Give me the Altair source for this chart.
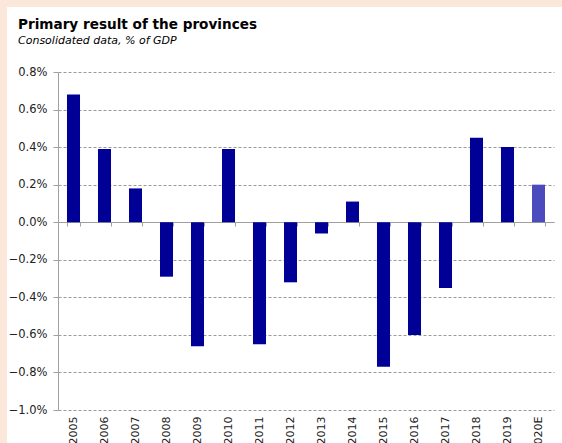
import altair as alt
import pandas as pd

years = ["2005", "2006", "2007", "2008", "2009", "2010", "2011", "2012",
         "2013", "2014", "2015", "2016", "2017", "2018", "2019", "2020E"]
values = [0.68, 0.39, 0.18, -0.29, -0.66, 0.39, -0.65, -0.32,
          -0.06, 0.11, -0.77, -0.60, -0.35, 0.45, 0.40, 0.20]
kinds = ["actual"] * 15 + ["estimate"]
y_ticks = [-1.0, -0.8, -0.6, -0.4, -0.2, 0.0, 0.2, 0.4, 0.6, 0.8]

df = pd.DataFrame({"year": years, "value": values, "kind": kinds})

FONT = "DejaVu Sans"
GRID = "#9a9a9a"
AXIS = "#a0a0a0"
PEACH = "#fce8da"

xscale = alt.Scale(domain=years, paddingInner=0.58, paddingOuter=0.29)
yenc = alt.Y(
    "value:Q",
    scale=alt.Scale(domain=[-1.0, 0.8], nice=False, zero=False),
    axis=alt.Axis(
        values=y_ticks, title=None, orient="left",
        labelExpr="format(datum.value, '.1f') + '%'",
        labelFont=FONT, labelFontSize=11.5, labelColor="#222222",
        labelPadding=6, tickSize=5, tickColor=AXIS, domainColor=AXIS,
        grid=True, gridColor=GRID, gridDash=[3, 2], gridWidth=1,
    ),
)

bars = alt.Chart(df).mark_bar().encode(
    x=alt.X("year:N", sort=years, scale=xscale,
            axis=alt.Axis(title=None, orient="bottom", labels=False, ticks=True,
                          tickBand="extent", tickSize=4, tickColor=AXIS, domain=True,
                          domainColor=AXIS, grid=False, offset=-188)),
    y=yenc,
    color=alt.Color("kind:N", scale=alt.Scale(domain=["actual", "estimate"],
                                              range=["#000096", "#4b4bbe"]),
                    legend=None),
)

labels_layer = alt.Chart(df).mark_bar(opacity=0).encode(
    x=alt.X("year:N", sort=years, scale=xscale,
            axis=alt.Axis(title=None, orient="bottom", labels=True, ticks=False,
                          tickSize=0, domain=False, grid=False, labelAngle=270,
                          labelAlign="right", labelBaseline="middle", labelPadding=6,
                          labelFont=FONT, labelFontSize=11, labelColor="#222222")),
    y=yenc,
)

one = alt.Data(values=[{"a": 1}])
left_strip = alt.Chart(one).mark_rect(color=PEACH).encode(
    x=alt.value(-58), x2=alt.value(-51), y=alt.value(-72), y2=alt.value(371))
top_strip = alt.Chart(one).mark_rect(color=PEACH).encode(
    x=alt.value(-58), x2=alt.value(504), y=alt.value(-72), y2=alt.value(-65))

chart = alt.layer(left_strip, top_strip, bars, labels_layer).resolve_axis(
    x="independent"
).properties(
    width=496, height=338,
    autosize=alt.AutoSizeParams(type="none"),
    padding={"left": 58, "top": 72, "right": 8, "bottom": 33},
    background="white",
    title=alt.TitleParams(
        text="Primary result of the provinces",
        subtitle="Consolidated data, % of GDP",
        anchor="start", frame="group", dx=-40, offset=-46,
        font=FONT, fontSize=13.6, fontWeight="bold", color="#000000",
        subtitleFont=FONT, subtitleFontSize=11, subtitleFontStyle="italic",
        subtitleColor="#000000", subtitlePadding=3,
    ),
).configure_view(stroke=None)

chart.save("out.html", embed_options={"renderer": "svg", "actions": False})
